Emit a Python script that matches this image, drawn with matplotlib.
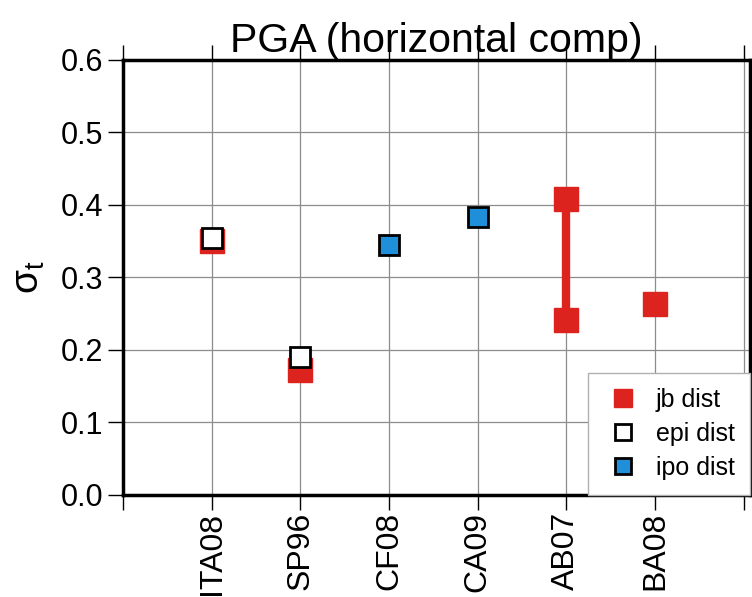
import numpy as np
import matplotlib.pyplot as plt

plt.rcParams['font.family'] = ['Liberation Sans', 'DejaVu Sans']
plt.rcParams['mathtext.fontset'] = 'custom'
plt.rcParams['mathtext.rm'] = 'Liberation Sans'

models = ['ITA08', 'SP96', 'CF08', 'CA09', 'AB07', 'BA08']
xpos = [1, 2, 3, 4, 5, 6]

# sigma_t values
jb_x = [1, 2, 6]
jb_val = [0.351, 0.172, 0.263]
ab07_range = [0.408, 0.241]
epi_x = [1, 2]
epi_val = [0.355, 0.190]
ipo_x = [3, 4]
ipo_val = [0.345, 0.383]

red = '#dc231e'
blue = '#1e8fd8'

fig = plt.figure(figsize=(7.52, 5.97), dpi=100)
ax = fig.add_axes([0.1636, 0.1709, 0.8334, 0.7286])

ax.grid(True, color='#8c8c8c', linewidth=0.9)
ax.set_axisbelow(True)

ax.plot([5, 5], ab07_range, color=red, linewidth=6, zorder=3)
ax.plot([5, 5], ab07_range, 's', color=red, markersize=17, zorder=4)
ax.plot(jb_x, jb_val, 's', color=red, markersize=17, linestyle='none',
        zorder=4, label='jb dist')
ax.plot(epi_x, epi_val, 's', markerfacecolor='white', markeredgecolor='black',
        markeredgewidth=2, markersize=15, linestyle='none', zorder=5,
        label='epi dist')
ax.plot(ipo_x, ipo_val, 's', markerfacecolor=blue, markeredgecolor='black',
        markeredgewidth=2, markersize=15, linestyle='none', zorder=5,
        label='ipo dist')

ax.set_xlim(0, 7.07)
ax.set_ylim(0, 0.6)
ax.set_xticks(range(0, 8))
ax.set_xticklabels([''] + models + [''], rotation=90, fontsize=23)
ax.set_yticks(np.arange(0, 0.61, 0.1))
ax.set_yticklabels(['%.1f' % v for v in np.arange(0, 0.61, 0.1)], fontsize=22)
ax.tick_params(direction='out', length=11, width=1, top=True, right=True,
               pad=3)
ax.tick_params(axis='x', pad=1)

for s in ax.spines.values():
    s.set_linewidth(2.5)

ax.set_ylabel(r'$\mathregular{\sigma_t}$', fontsize=28, labelpad=10)
ax.set_title('PGA (horizontal comp)', fontsize=29.5, pad=6)

leg = ax.legend(loc='lower right', fontsize=18, frameon=True, fancybox=False,
                edgecolor='#b0b0b0', framealpha=1, borderaxespad=0,
                handletextpad=0.5, borderpad=0.6, labelspacing=0.4,
                handlelength=1.6, markerscale=0.75)
leg.get_frame().set_linewidth(1)

fig.savefig('out.png', dpi=100)
